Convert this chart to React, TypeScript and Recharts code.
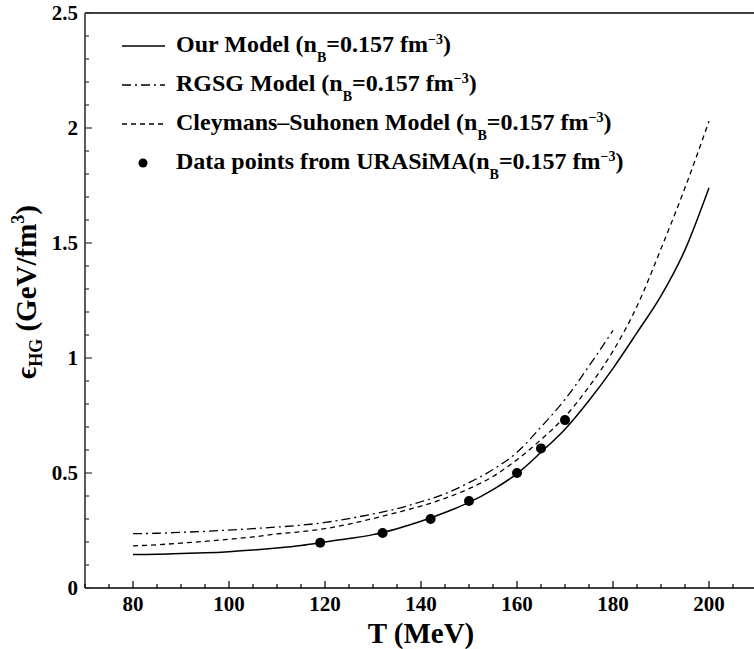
import React from "react";
import {
  ComposedChart,
  Line,
  Scatter,
  XAxis,
  YAxis,
  ReferenceLine,
  Customized,
} from "recharts";

// Temperature grid (MeV) for the model curves
const tempGrid = [80, 85, 90, 95, 100, 105, 110, 115, 120, 125, 130, 135, 140, 145, 150, 155, 160, 165, 170, 175, 180, 185, 190, 195, 200];

// Energy density (GeV/fm^3) of each model on the grid
const ourModel = [0.146, 0.147, 0.15, 0.153, 0.158, 0.165, 0.174, 0.185, 0.2, 0.215, 0.232, 0.258, 0.29, 0.328, 0.372, 0.428, 0.497, 0.59, 0.69, 0.815, 0.955, 1.11, 1.27, 1.47, 1.74];
const cleymansSuhonen = [0.183, 0.188, 0.195, 0.203, 0.212, 0.222, 0.235, 0.245, 0.258, 0.278, 0.302, 0.328, 0.356, 0.39, 0.432, 0.485, 0.558, 0.645, 0.745, 0.875, 1.03, 1.225, 1.475, 1.74, 2.03];
// RGSG model stops at 180 MeV
const rgsgModel = [0.236, 0.238, 0.242, 0.246, 0.252, 0.258, 0.265, 0.273, 0.285, 0.302, 0.322, 0.345, 0.375, 0.41, 0.458, 0.515, 0.59, 0.7, 0.82, 0.965, 1.12];

// URASiMA data points
const urasimaT = [119, 132, 142, 150, 160, 165, 170];
const urasimaE = [0.197, 0.239, 0.3, 0.378, 0.5, 0.607, 0.73];

// Axis ticks
const xMajor = [80, 100, 120, 140, 160, 180, 200];
const xTicks = [70, 75, 80, 85, 90, 95, 100, 105, 110, 115, 120, 125, 130, 135, 140, 145, 150, 155, 160, 165, 170, 175, 180, 185, 190, 195, 200, 205, 210];
const yMajor = [0, 0.5, 1, 1.5, 2, 2.5];
const yMajorLabels = ["0", "0.5", "1", "1.5", "2", "2.5"];
const yTicks = Array.from({ length: 26 }, (_, i) => Math.round(i * 10) / 100);

const ourData = tempGrid.map((T, i) => ({ T, e: ourModel[i] }));
const csData = tempGrid.map((T, i) => ({ T, e: cleymansSuhonen[i] }));
const rgsgData = rgsgModel.map((e, i) => ({ T: tempGrid[i], e }));
const pointData = urasimaT.map((T, i) => ({ T, e: urasimaE[i] }));

const FONT = "Liberation Serif, Tinos, Times New Roman, Times, serif";
const DASH_DOT = "9 4 2 4";
const DASHED = "5 4";

const XTick = (props: any) => {
  const { x, y, payload } = props;
  const major = xMajor.includes(payload.value);
  return (
    <g>
      <line x1={x} x2={x} y1={y} y2={y - (major ? 7 : 4)} stroke="#000" strokeWidth={1.2} />
      {major && (
        <text x={x} y={y + 23} textAnchor="middle" style={{ fontFamily: FONT }} fontWeight="bold" fontSize={21} fill="#000">
          {payload.value}
        </text>
      )}
    </g>
  );
};

const YTick = (props: any) => {
  const { x, y, payload } = props;
  const idx = yMajor.findIndex((v) => Math.abs(v - payload.value) < 1e-6);
  const major = idx >= 0;
  return (
    <g>
      <line x1={x} x2={x + (major ? 7 : 4)} y1={y} y2={y} stroke="#333" strokeWidth={1.2} />
      {major && (
        <text x={x - 7} y={y + 7} textAnchor="end" style={{ fontFamily: FONT }} fontWeight="bold" fontSize={21} fill="#000">
          {yMajorLabels[idx]}
        </text>
      )}
    </g>
  );
};

const XTitle = (props: any) => {
  const { viewBox } = props;
  return (
    <text x={viewBox.x + viewBox.width / 2} y={viewBox.y + 55} textAnchor="middle" style={{ fontFamily: FONT }} fontWeight="bold" fontSize={29} fill="#000">
      T (MeV)
    </text>
  );
};

const YTitle = () => {
  const cx = 36;
  const cy = 292;
  return (
    <text
      x={cx}
      y={cy}
      transform={`rotate(-90 ${cx} ${cy})`}
      textAnchor="middle"
      style={{ fontFamily: FONT }}
      fontWeight="bold"
      fontSize={29}
      fill="#000"
    >
      ϵ
      <tspan dy={6} fontSize={18}>HG</tspan>
      <tspan dy={-6}> (GeV/fm</tspan>
      <tspan dy={-12} fontSize={18}>3</tspan>
      <tspan dy={12}>)</tspan>
    </text>
  );
};

const legendRows = [
  { name: "Our Model ", kind: "solid" },
  { name: "RGSG Model ", kind: "dashdot" },
  { name: "Cleymans\u2013Suhonen Model ", kind: "dashed" },
  { name: "Data points from URASiMA", kind: "dot" },
];

const LegendBlock = () => {
  const x0 = 122;
  const x1 = 165;
  const tx = 176;
  const baseline0 = 52;
  const step = 39;
  return (
    <g>
      {legendRows.map((row, i) => {
        const by = baseline0 + i * step;
        const sy = by - 6;
        let symbol: React.ReactNode = null;
        if (row.kind === "dot") {
          symbol = <circle cx={143} cy={sy} r={4.5} fill="#000" />;
        } else {
          symbol = (
            <line
              x1={x0}
              x2={x1}
              y1={sy}
              y2={sy}
              stroke="#000"
              strokeWidth={1.3}
              strokeDasharray={row.kind === "dashdot" ? DASH_DOT : row.kind === "dashed" ? DASHED : undefined}
            />
          );
        }
        return (
          <g key={row.name}>
            {symbol}
            <text x={tx} y={by} style={{ fontFamily: FONT }} fontWeight="bold" fontSize={24} fill="#000">
              {row.name}(n
              <tspan dy={10} fontSize={14}>B</tspan>
              <tspan dy={-10}>=0.157 fm</tspan>
              <tspan dy={-8} fontSize={14}>{"\u22123"}</tspan>
              <tspan dy={8}>)</tspan>
            </text>
          </g>
        );
      })}
    </g>
  );
};

export default function App() {
  return (
    <div style={{ position: "absolute", left: 0, top: 0, width: 754, height: 649, overflow: "hidden", background: "#fff" }}>
      <ComposedChart width={760} height={649} margin={{ top: 13, right: 3, bottom: 0, left: 0 }}>
        <XAxis
          dataKey="T"
          type="number"
          domain={[70, 210]}
          ticks={xTicks}
          interval={0}
          tickSize={0}
          tickMargin={0}
          tickLine={false}
          tick={<XTick />}
          height={61}
          allowDataOverflow
          axisLine={{ stroke: "#000", strokeWidth: 1.6 }}
          label={<XTitle />}
        />
        <YAxis
          dataKey="e"
          type="number"
          domain={[0, 2.5]}
          ticks={yTicks}
          interval={0}
          tickSize={0}
          tickMargin={0}
          tickLine={false}
          tick={<YTick />}
          width={85}
          allowDataOverflow
          axisLine={{ stroke: "#333", strokeWidth: 1.6 }}
        />
        <ReferenceLine y={2.5} stroke="#000" strokeWidth={1.4} />
        <Line data={ourData} dataKey="e" type="monotone" stroke="#000" strokeWidth={1.5} dot={false} isAnimationActive={false} />
        <Line data={rgsgData} dataKey="e" type="monotone" stroke="#000" strokeWidth={1.3} strokeDasharray={DASH_DOT} dot={false} isAnimationActive={false} />
        <Line data={csData} dataKey="e" type="monotone" stroke="#000" strokeWidth={1.3} strokeDasharray={DASHED} dot={false} isAnimationActive={false} />
        <Scatter
          data={pointData}
          dataKey="e"
          fill="#000"
          isAnimationActive={false}
          shape={(p: any) => <circle cx={p.cx} cy={p.cy} r={5} fill="#000" />}
        />
        <Customized component={LegendBlock} />
        <Customized component={YTitle} />
      </ComposedChart>
    </div>
  );
}
